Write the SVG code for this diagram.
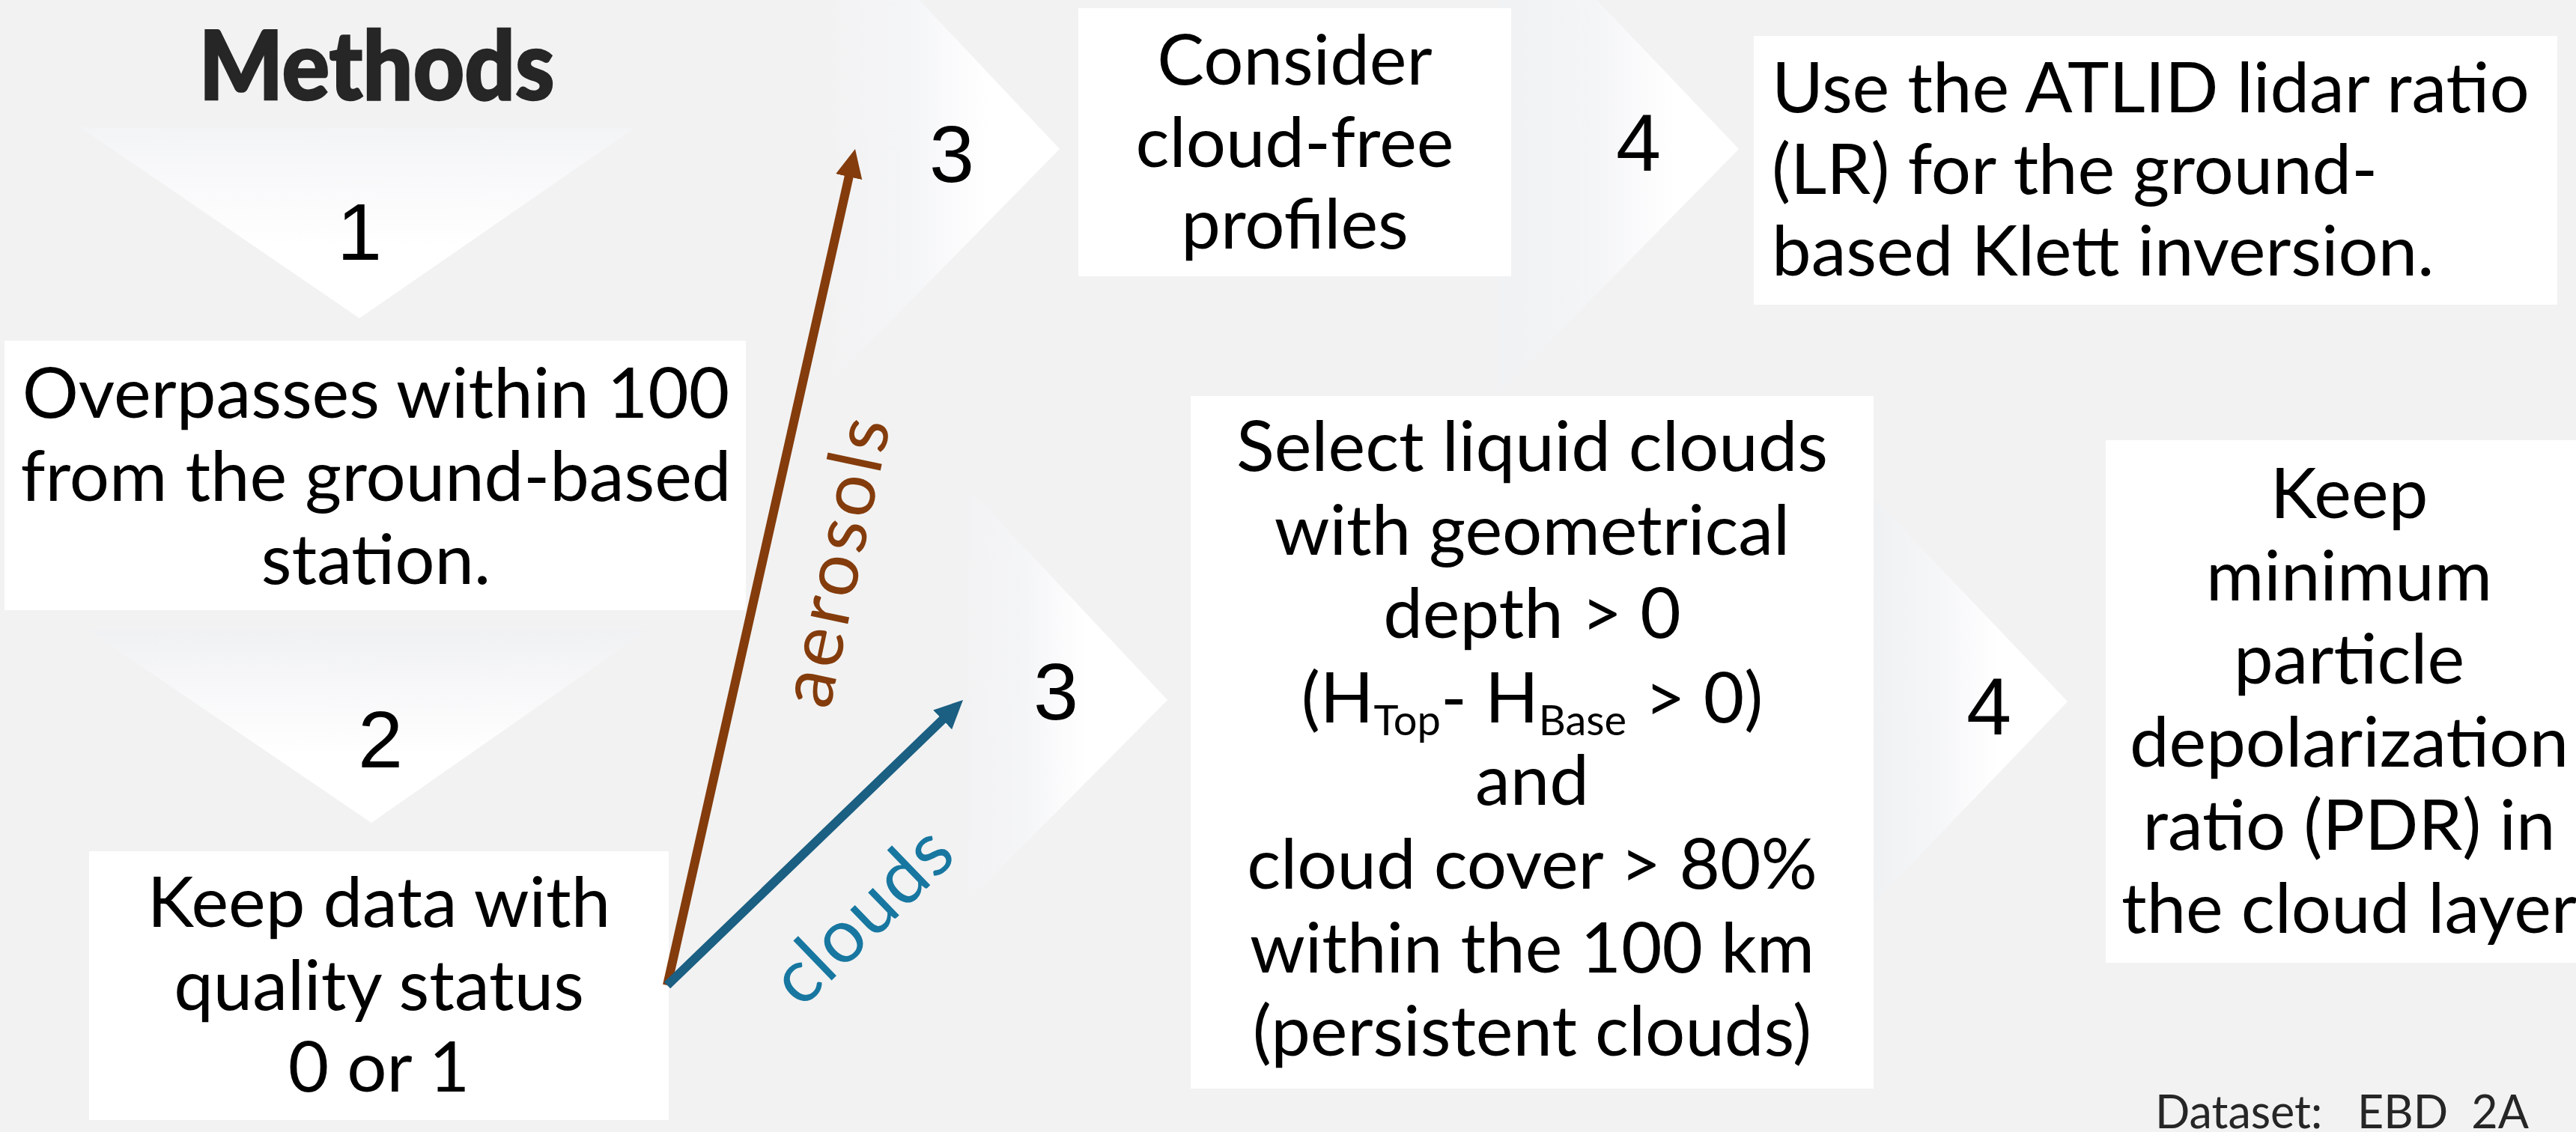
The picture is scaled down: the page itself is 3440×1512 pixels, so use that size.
<svg xmlns="http://www.w3.org/2000/svg" width="3440" height="1512" viewBox="0 0 3440 1512">
  <defs>
    <style>
      .bg { fill: #f2f2f2; }
      .box { fill: #ffffff; }
      .txt { font-family: "Lato", "Liberation Sans", sans-serif; font-size: 94px; fill: #000000; text-anchor: middle; }
      .left { text-anchor: start; }
      .num { font-family: "Liberation Sans", Arial, sans-serif; font-size: 108px; fill: #000000; text-anchor: middle; }
      .title { font-family: "Lato", "Liberation Sans", sans-serif; font-size: 127px; font-weight: 900; fill: #262626; stroke: #262626; stroke-width: 2.5; text-anchor: middle; }
      .sub { font-size: 56px; }
      .lbl { font-family: "Lato", "Open Sans", sans-serif; font-size: 100px; text-anchor: middle; }
      .note { font-family: "Lato", "Liberation Sans", sans-serif; font-size: 61px; fill: #262626; white-space: pre; }
    </style>
    <!-- fades from the page grey to white, left to right -->
    <linearGradient id="fadeTop3" gradientUnits="userSpaceOnUse" x1="1110" y1="0" x2="1320" y2="0">
      <stop offset="0" stop-color="#f2f2f3"/>
      <stop offset="0.5" stop-color="#f4f5f7"/>
      <stop offset="1" stop-color="#ffffff"/>
    </linearGradient>
    <linearGradient id="fadeTop4" gradientUnits="userSpaceOnUse" x1="2030" y1="0" x2="2235" y2="0">
      <stop offset="0" stop-color="#f1f2f3"/>
      <stop offset="0.5" stop-color="#f4f5f7"/>
      <stop offset="1" stop-color="#ffffff"/>
    </linearGradient>
    <linearGradient id="fadeMid3" gradientUnits="userSpaceOnUse" x1="1285" y1="0" x2="1450" y2="0">
      <stop offset="0" stop-color="#f2f2f3"/>
      <stop offset="0.5" stop-color="#f4f5f7"/>
      <stop offset="1" stop-color="#ffffff"/>
    </linearGradient>
    <linearGradient id="fadeMid4" gradientUnits="userSpaceOnUse" x1="2505" y1="0" x2="2670" y2="0">
      <stop offset="0" stop-color="#f0f1f3"/>
      <stop offset="0.5" stop-color="#f5f6f8"/>
      <stop offset="1" stop-color="#ffffff"/>
    </linearGradient>
    <!-- fades from grey to white, top to bottom -->
    <linearGradient id="fadeDown1" gradientUnits="userSpaceOnUse" x1="0" y1="170" x2="0" y2="330">
      <stop offset="0" stop-color="#f3f4f6"/>
      <stop offset="1" stop-color="#ffffff"/>
    </linearGradient>
    <linearGradient id="fadeDown2" gradientUnits="userSpaceOnUse" x1="0" y1="842" x2="0" y2="1010">
      <stop offset="0" stop-color="#f0f1f3"/>
      <stop offset="1" stop-color="#ffffff"/>
    </linearGradient>
    <marker id="headBrown" markerUnits="userSpaceOnUse" viewBox="0 -20 40 40" markerWidth="40" markerHeight="40" refX="8" refY="0" orient="auto">
      <path d="M0,-18 L38,0 L0,18 Z" fill="#843c0c"/>
    </marker>
    <marker id="headBlue" markerUnits="userSpaceOnUse" viewBox="0 -20 40 40" markerWidth="40" markerHeight="40" refX="8" refY="0" orient="auto">
      <path d="M0,-18 L38,0 L0,18 Z" fill="#1b5f82"/>
    </marker>
  </defs>

  <rect class="bg" x="0" y="0" width="3440" height="1512"/>

  <text class="title" x="503" y="133" textLength="475" lengthAdjust="spacingAndGlyphs">Methods</text>

  <!-- step markers -->
  <g id="step-1">
    <polygon points="107,170 849,170 480,425" fill="url(#fadeDown1)"/>
    <text class="num" x="480" y="347">1</text>
  </g>
  <g id="step-2">
    <polygon points="118,842 864,842 496,1099" fill="url(#fadeDown2)"/>
    <text class="num" x="508" y="1025">2</text>
  </g>
  <g id="step-3-aerosols">
    <polygon points="1171,-60 1415,199 1090,530 1090,-60" fill="url(#fadeTop3)"/>
    <text class="num" x="1271" y="243">3</text>
  </g>
  <g id="step-4-aerosols">
    <polygon points="2075,-60 2322,199 2000,527 2000,-60" fill="url(#fadeTop4)"/>
    <text class="num" x="2188" y="228">4</text>
  </g>
  <g id="step-3-clouds">
    <polygon points="1250,606 1559,935 1250,1247" fill="url(#fadeMid3)"/>
    <text class="num" x="1410" y="961">3</text>
  </g>
  <g id="step-4-clouds">
    <polygon points="2440,600 2761,937 2440,1271" fill="url(#fadeMid4)"/>
    <text class="num" x="2656" y="981">4</text>
  </g>

  <!-- process boxes -->
  <g id="overpasses">
    <rect class="box" x="6" y="455" width="990" height="360"/>
    <text class="txt" x="502" y="558">Overpasses within 100</text>
    <text class="txt" x="502" y="669">from the ground-based</text>
    <text class="txt" x="502" y="780">station.</text>
  </g>
  <g id="quality">
    <rect class="box" x="119" y="1137" width="774" height="359"/>
    <text class="txt" x="506" y="1238">Keep data with</text>
    <text class="txt" x="506" y="1349">quality status</text>
    <text class="txt" x="506" y="1458">0 or 1</text>
  </g>
  <g id="cloud-free">
    <rect class="box" x="1440" y="11" width="578" height="358"/>
    <text class="txt" x="1729" y="113">Consider</text>
    <text class="txt" x="1729" y="223">cloud-free</text>
    <text class="txt" x="1729" y="332">profiles</text>
  </g>
  <g id="lidar-ratio">
    <rect class="box" x="2342" y="48" width="1073" height="359"/>
    <text class="txt left" x="2366" y="150">Use the ATLID lidar ratio</text>
    <text class="txt left" x="2366" y="259">(LR) for the ground-</text>
    <text class="txt left" x="2366" y="368">based Klett inversion.</text>
  </g>
  <g id="liquid-clouds">
    <rect class="box" x="1590" y="529" width="912" height="925"/>
    <text class="txt" x="2046" y="629">Select liquid clouds</text>
    <text class="txt" x="2046" y="741">with geometrical</text>
    <text class="txt" x="2046" y="852">depth &gt; 0</text>
    <text class="txt" x="2046" y="965">(H<tspan class="sub" dy="17">Top</tspan><tspan dy="-17">- H</tspan><tspan class="sub" dy="17">Base</tspan><tspan dy="-17"> &gt; 0)</tspan></text>
    <text class="txt" x="2046" y="1075">and</text>
    <text class="txt" x="2046" y="1187">cloud cover &gt; 80%</text>
    <text class="txt" x="2046" y="1299">within the 100 km</text>
    <text class="txt" x="2046" y="1410">(persistent clouds)</text>
  </g>
  <g id="min-pdr">
    <rect class="box" x="2812" y="588" width="700" height="698"/>
    <text class="txt" x="3137" y="692">Keep</text>
    <text class="txt" x="3137" y="802">minimum</text>
    <text class="txt" x="3137" y="913">particle</text>
    <text class="txt" x="3137" y="1024">depolarization</text>
    <text class="txt" x="3137" y="1135">ratio (PDR) in</text>
    <text class="txt" x="3137" y="1246">the cloud layer</text>
  </g>

  <!-- branch arrows -->
  <g id="connectors">
    <line x1="891" y1="1316" x2="1135.4" y2="228.3" stroke="#843c0c" stroke-width="12" marker-end="url(#headBrown)"/>
    <line x1="891" y1="1316" x2="1264.4" y2="955.8" stroke="#1b5f82" stroke-width="12" marker-end="url(#headBlue)"/>
    <text class="lbl" fill="#843c0c" transform="translate(1122,752) rotate(-78)" y="27" textLength="392" lengthAdjust="spacing">aerosols</text>
    <text class="lbl" fill="#1777a0" transform="translate(1156,1228) rotate(-44)" y="27" textLength="292" lengthAdjust="spacing">clouds</text>
  </g>

  <text class="note" x="2878" y="1507">Dataset:   EBD  2A</text>
</svg>
